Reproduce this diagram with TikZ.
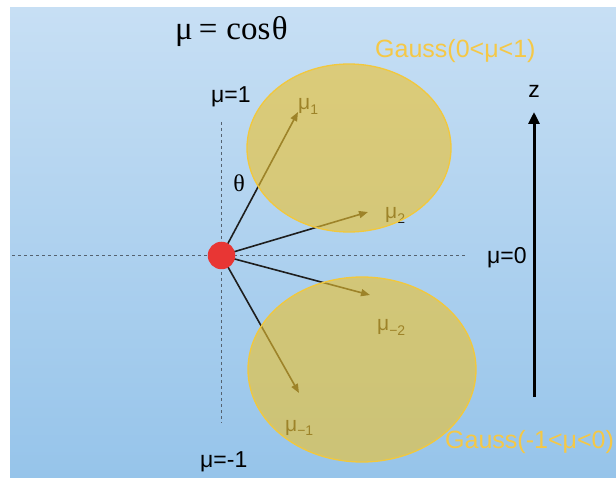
\documentclass[tikz,border=0pt]{standalone}
\usepackage{fontspec}
\setmainfont{Liberation Serif}
\newfontfamily\sansf{Liberation Sans}
\usetikzlibrary{arrows.meta}
\definecolor{bgtop}{RGB}{199,223,244}
\definecolor{bgbot}{RGB}{150,196,234}
\definecolor{gfill}{RGB}{236,194,48}
\definecolor{gedge}{RGB}{242,200,60}
\definecolor{gtext}{RGB}{245,200,70}
\definecolor{dotred}{RGB}{232,54,52}
\definecolor{axisgray}{RGB}{85,98,112}
\definecolor{arrowdark}{RGB}{30,30,30}
\tikzset{
  lbl/.style={inner sep=0pt, anchor=base west, font=\sansf\fontsize{23}{23}\selectfont, text=black},
  mulbl/.style={inner sep=0pt, anchor=base west, text=arrowdark},
  gausslbl/.style={inner sep=0pt, anchor=base west, font=\sansf\fontsize{25}{25}\selectfont, text=gtext},
  axisline/.style={draw=axisgray, line width=1.6pt, dash pattern=on 3pt off 3pt},
  dirarrow/.style={draw=arrowdark, line width=1.6pt, -{Triangle[length=9pt,width=7pt]}},
  lobe/.style={fill=gfill, fill opacity=0.62, draw=gedge, line width=1.3pt},
}
\newcommand{\mulab}[1]{{\sansf\fontsize{21}{21}\selectfont μ}{\sansf\fontsize{14}{14}\selectfont\raisebox{-5pt}{#1}}}
\begin{document}
\begin{tikzpicture}[x=1pt,y=-1pt]
\useasboundingbox (0,0) rectangle (616,478);
\shade[top color=bgtop,bottom color=bgbot] (10,8) rectangle (616,478);

% axes
\coordinate (hl) at (12,255.5);
\coordinate (hr) at (467,255.5);
\coordinate (vt) at (221.5,122);
\coordinate (vb) at (221.5,423);
\draw[axisline] (hl) -- (hr);
\draw[axisline] (vt) -- (vb);

% direction arrows
\coordinate (c0) at (221.5,255.5);
\coordinate (t1) at (298,112);
\coordinate (t2) at (368,212);
\coordinate (tm2) at (370,295);
\coordinate (tm1) at (299,393);
\draw[dirarrow] (c0) -- (t1);
\draw[dirarrow] (c0) -- (t2);
\draw[dirarrow] (c0) -- (tm2);
\draw[dirarrow] (c0) -- (tm1);

% labels of directions
\node[mulbl] (l1) at (298,110) {\mulab{1}};
\node[mulbl] (l2) at (385,218.5) {\mulab{2}};
\node[mulbl] (lm2) at (377,331) {\mulab{−2}};
\node[mulbl] (lm1) at (285,431) {\mulab{−1}};

% red source
\node[circle, fill=dotred, minimum size=27.5pt, inner sep=0pt] (o) at (c0) {};

% lobes
\path[lobe] (349,148) ellipse [x radius=102, y radius=84];
\path[lobe] (362,369.5) ellipse [x radius=114, y radius=92.5];

% texts
\node[inner sep=0pt, anchor=base west, font=\fontsize{33}{33}\selectfont] (title) at (175,40) {μ\hspace{6pt}=\hspace{9pt}cos\hspace{1.5pt}θ};
\node[gausslbl] (g1) at (375,58) {Gauss(0<μ<1)};
\node[gausslbl] (g2) at (445,448) {Gauss(-1<μ<0)};
\node[lbl] (m1) at (211,103) {μ=1};
\node[lbl] (m0) at (487,264) {μ=0};
\node[lbl] (mm1) at (200,467) {μ=-1};
\node[inner sep=0pt, font=\fontsize{24}{24}\selectfont] (th) at (239,183) {θ};

% z axis
\coordinate (zb) at (534,397);
\coordinate (zt) at (534,112);
\draw[line width=3pt, -{Triangle[length=12pt,width=11pt]}] (zb) -- (zt);
\node[inner sep=0pt, font=\sansf\fontsize{23}{23}\selectfont] (z) at (534,91) {z};
\end{tikzpicture}
\end{document}
